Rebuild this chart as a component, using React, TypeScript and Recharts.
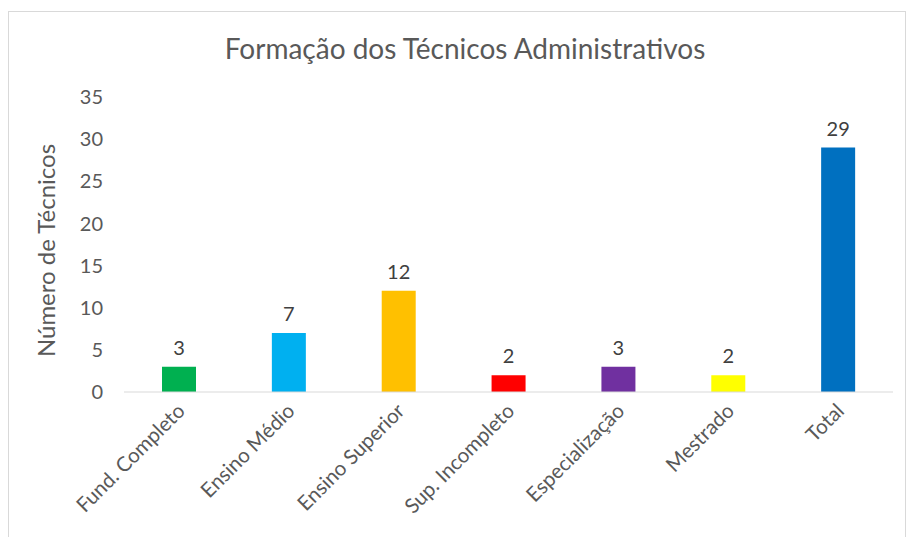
import { BarChart, Bar, XAxis, YAxis, Cell, LabelList } from 'recharts';

const categories = [
  'Fund. Completo',
  'Ensino Médio',
  'Ensino Superior',
  'Sup. Incompleto',
  'Especialização',
  'Mestrado',
  'Total',
];
const tecnicos = [3, 7, 12, 2, 3, 2, 29];
const barColors = ['#00B050', '#00B0F0', '#FFC000', '#FF0000', '#7030A0', '#FFFF00', '#0070C0'];
const yTicks = [0, 5, 10, 15, 20, 25, 30, 35];

const data = categories.map((name, i) => ({ name, value: tecnicos[i] }));

const FONT = 'Lato, "Open Sans", sans-serif';
const TEXT = '#595959';

const XTick = ({ x, y, payload }: any) => (
  <g transform={`translate(${x + 3},${y + 8})`}>
    <text
      textAnchor="end"
      transform="rotate(-45)"
      fill={TEXT}
      fontSize={20.5}
      fontFamily={FONT}
      dy={6}
    >
      {payload.value}
    </text>
  </g>
);

const YLabel = ({ viewBox }: any) => {
  const cx = 36;
  const cy = viewBox.y + viewBox.height / 2 + 6;
  return (
    <text
      x={cx}
      y={cy}
      transform={`rotate(-90, ${cx}, ${cy})`}
      textAnchor="middle"
      dominantBaseline="central"
      fill={TEXT}
      fontSize={24}
      fontFamily={FONT}
    >
      Número de Técnicos
    </text>
  );
};

export default function App() {
  return (
    <>
      <style>{`body{margin:0;overflow:hidden;background:#fff}`}</style>
      <div
        style={{
          position: 'absolute',
          left: 8,
          top: 11,
          width: 898,
          height: 540,
          border: '1px solid #d9d9d9',
          boxSizing: 'border-box',
          background: '#fff',
        }}
      >
        <div
          style={{
            position: 'absolute',
            left: 0,
            top: 19,
            width: 912,
            textAlign: 'center',
            fontFamily: FONT,
            fontSize: 28,
            color: TEXT,
          }}
        >
          Formação dos Técnicos Administrativos
        </div>
        <BarChart
          width={896}
          height={526}
          data={data}
          margin={{ top: 85, right: 12, left: 0, bottom: 0 }}
        >
          <XAxis
            dataKey="name"
            interval={0}
            axisLine={{ stroke: '#d9d9d9' }}
            tickLine={false}
            height={146}
            tick={<XTick />}
          />
          <YAxis
            domain={[0, 35]}
            ticks={yTicks}
            width={115}
            axisLine={false}
            tickLine={false}
            tickSize={0}
            tickMargin={21}
            tick={{ fill: TEXT, fontSize: 20, fontFamily: FONT }}
            label={<YLabel />}
          />
          <Bar dataKey="value" barSize={34} isAnimationActive={false}>
            {data.map((d, i) => (
              <Cell key={d.name} fill={barColors[i]} />
            ))}
            <LabelList
              dataKey="value"
              position="top"
              offset={12}
              fill="#404040"
              fontSize={20}
              fontFamily={FONT}
            />
          </Bar>
        </BarChart>
      </div>
    </>
  );
}
